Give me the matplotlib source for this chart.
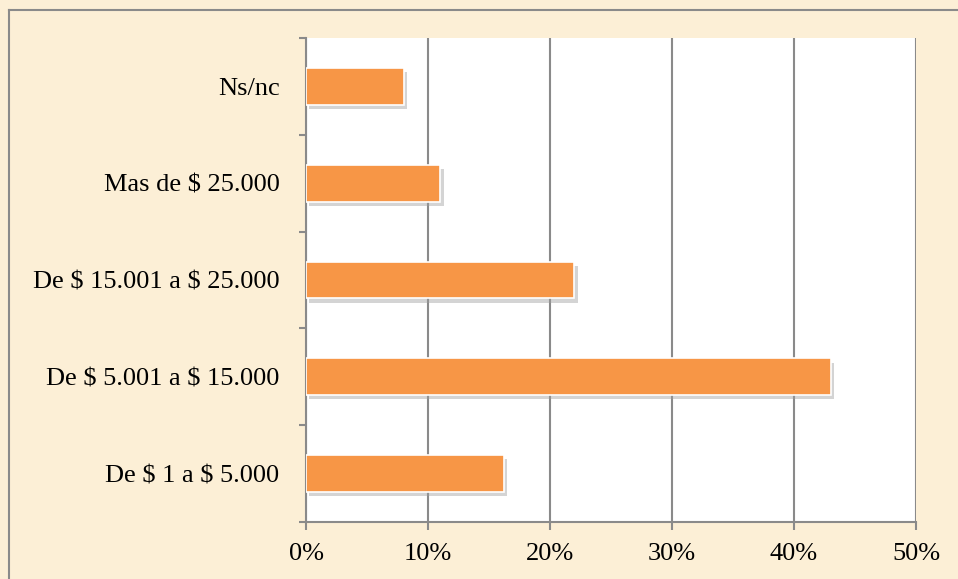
import matplotlib
matplotlib.use("Agg")
import matplotlib.pyplot as plt
import matplotlib.patheffects as pe
from matplotlib.lines import Line2D
from matplotlib.ticker import FixedLocator, NullFormatter

categories = ["De \\$ 1 a \\$ 5.000", "De \\$ 5.001 a \\$ 15.000", "De \\$ 15.001 a \\$ 25.000",
              "Mas de \\$ 25.000", "Ns/nc"]
values = [16.2, 43, 22, 11, 8]
xticks = [0, 10, 20, 30, 40, 50]
xticklabels = ["0%", "10%", "20%", "30%", "40%", "50%"]

plt.rcParams['font.family'] = ['Liberation Serif', 'DejaVu Serif']

W, H = 958, 579
fig = plt.figure(figsize=(W / 100, H / 100), dpi=100)
fig.patch.set_facecolor('#fcefd6')

# border (top and left visible)
fig.add_artist(Line2D([9 / W, 9 / W], [0, 1 - 9.5 / H], transform=fig.transFigure,
                      color='#8a8a8a', lw=1.5))
fig.add_artist(Line2D([9 / W, 1], [1 - 9.5 / H, 1 - 9.5 / H], transform=fig.transFigure,
                      color='#8a8a8a', lw=1.5))

left, right, top, bottom = 306, 916, 38, 522
ax = fig.add_axes([left / W, 1 - bottom / H, (right - left) / W, (bottom - top) / H])
ax.set_facecolor('white')

y = list(range(len(categories)))
bars = ax.barh(y, values, height=0.38, color='#f79646', edgecolor='white', linewidth=1.2,
               zorder=3)
for b in bars:
    b.set_path_effects([pe.SimplePatchShadow(offset=(2.5, -3), shadow_rgbFace='#a0a0a0', alpha=0.45),
                        pe.Normal()])

ax.set_xlim(0, 50)
ax.set_ylim(-0.5, len(categories) - 0.5)
ax.set_xticks(xticks)
ax.set_xticklabels(xticklabels, fontsize=19)
ax.set_yticks(y)
ax.set_yticklabels(categories, fontsize=19)
ax.tick_params(axis='y', length=0, pad=19)
ax.yaxis.set_minor_locator(FixedLocator([i - 0.5 for i in range(len(categories) + 1)]))
ax.yaxis.set_minor_formatter(NullFormatter())
ax.tick_params(axis='y', which='minor', length=5, color='#8a8a8a', width=1.5)
ax.tick_params(axis='x', length=6, color='#8a8a8a', width=1.5, pad=9)

ax.grid(axis='x', color='#8a8a8a', lw=1.5, zorder=0)
ax.set_axisbelow(True)
for s in ['top', 'right']:
    ax.spines[s].set_visible(False)
for s in ['left', 'bottom']:
    ax.spines[s].set_color('#8a8a8a')
    ax.spines[s].set_linewidth(1.5)

fig.savefig('out.png', dpi=100, facecolor=fig.get_facecolor())
